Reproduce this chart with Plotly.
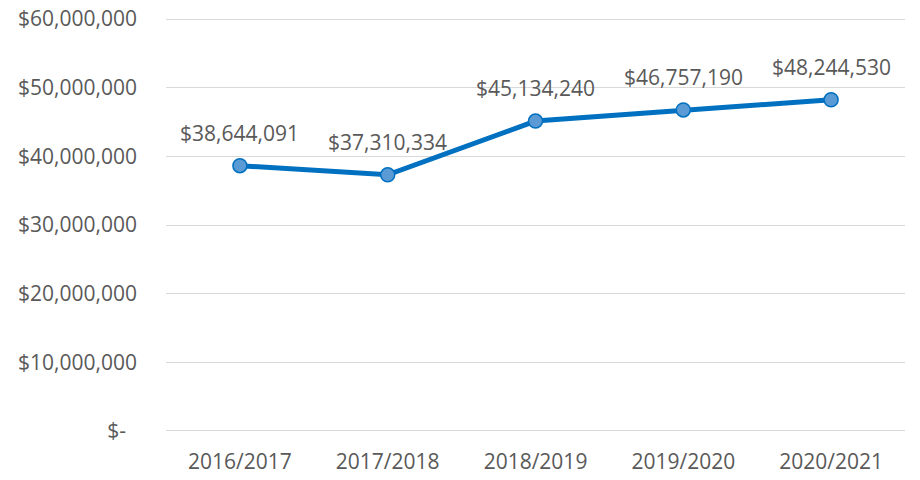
import plotly.graph_objects as go

years = ["2016/2017", "2017/2018", "2018/2019", "2019/2020", "2020/2021"]
amounts = [38644091, 37310334, 45134240, 46757190, 48244530]
tick_values = [0, 10000000, 20000000, 30000000, 40000000, 50000000, 60000000]
tick_labels = ["$-  ", "$10,000,000", "$20,000,000", "$30,000,000", "$40,000,000", "$50,000,000", "$60,000,000"]

FONT = "Open Sans"
GRAY = "#595959"
FS = 21

fig = go.Figure()
fig.add_trace(go.Scatter(
    x=years, y=amounts, mode="lines+markers",
    line=dict(color="#0070C0", width=5),
    marker=dict(size=14, color="#5B9BD5", line=dict(color="#0070C0", width=1.5)),
    hoverinfo="skip",
))
for x, y in zip(years, amounts):
    fig.add_annotation(x=x, y=y, text="${:,}".format(y), showarrow=False,
                       yshift=33, font=dict(family=FONT, size=FS, color=GRAY))

fig.update_layout(
    width=920, height=480,
    margin=dict(l=166, r=15, t=18, b=48),
    paper_bgcolor="white", plot_bgcolor="white",
    showlegend=False,
    font=dict(family=FONT, size=FS, color=GRAY),
    xaxis=dict(range=[-0.5, 4.5], showgrid=False, showline=False, zeroline=False, ticks="",
               automargin=False, tickfont=dict(family=FONT, size=FS, color=GRAY),
               ticklabelstandoff=15),
    yaxis=dict(range=[-150000, 60150000], tickvals=tick_values, ticktext=tick_labels,
               showgrid=True, gridcolor="#D9D9D9", gridwidth=1.3, zeroline=False,
               showline=False, ticks="", ticklabelstandoff=28, automargin=False,
               tickfont=dict(family=FONT, size=FS, color=GRAY)),
)
fig.write_html("out.html", config={"displayModeBar": False},
               post_script="document.body.style.margin='0';")
